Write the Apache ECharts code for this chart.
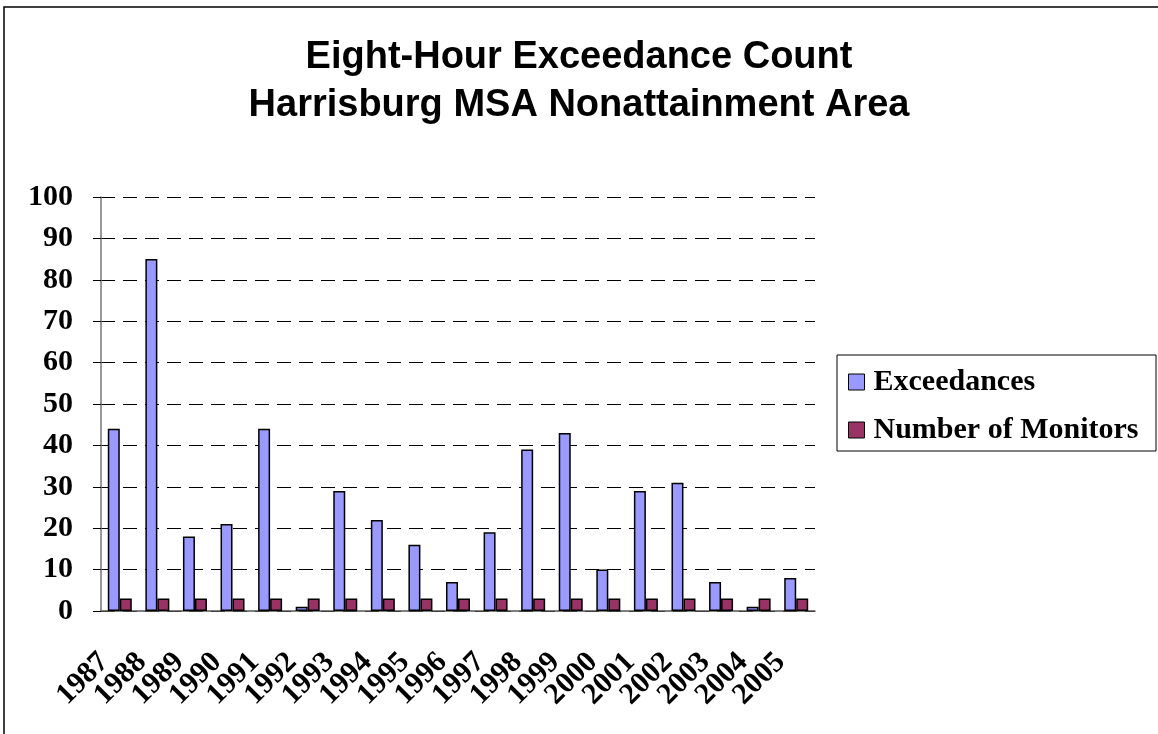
<!DOCTYPE html>
<html>
<head>
<meta charset="utf-8">
<script src="https://cdn.jsdelivr.net/npm/echarts@6/dist/echarts.min.js"></script>
<style>
  html, body { margin: 0; padding: 0; background: #fff; }
  #main { width: 1158px; height: 734px; }
</style>
</head>
<body>
<div id="main"></div>
<script>
var years = ['1987','1988','1989','1990','1991','1992','1993','1994','1995','1996',
             '1997','1998','1999','2000','2001','2002','2003','2004','2005'];
var exceedances = [44, 85, 18, 21, 44, 1, 29, 22, 16, 7, 19, 39, 43, 10, 29, 31, 7, 1, 8];
var monitors = [3, 3, 3, 3, 3, 3, 3, 3, 3, 3, 3, 3, 3, 3, 3, 3, 3, 3, 3];
var yTicks = [0, 10, 20, 30, 40, 50, 60, 70, 80, 90, 100];

var serif = '"Liberation Serif", "Times New Roman", serif';
var sans = '"Liberation Sans", Arial, sans-serif';

var myChart = echarts.init(document.getElementById('main'));
myChart.setOption({
  animation: false,
  backgroundColor: '#fff',
  title: {
    text: 'Eight-Hour Exceedance Count\nHarrisburg MSA Nonattainment Area',
    left: 'center',
    top: 29,
    textStyle: {
      fontFamily: sans,
      fontWeight: 'bold',
      fontSize: 38,
      lineHeight: 48,
      color: '#000'
    }
  },
  graphic: [
    {
      type: 'rect',
      shape: { x: 4, y: 7, width: 1160, height: 740 },
      style: { fill: 'none', stroke: '#000', lineWidth: 1.5 },
      silent: true
    },
    {
      type: 'rect',
      shape: { x: 837, y: 355, width: 319, height: 96 },
      style: { fill: '#fff', stroke: '#000', lineWidth: 1 },
      z: -1,
      silent: true
    }
  ],
  legend: {
    orient: 'vertical',
    left: 837,
    top: 367,
    padding: [0, 0, 0, 11],
    itemGap: 18,
    itemWidth: 16,
    itemHeight: 16,
    icon: 'rect',
    itemStyle: { borderColor: '#000', borderWidth: 1 },
    textStyle: {
      fontFamily: serif,
      fontWeight: 'bold',
      fontSize: 30,
      lineHeight: 30,
      color: '#000',
      padding: [0, 0, 0, 4]
    },
    data: ['Exceedances', 'Number of Monitors']
  },
  grid: {
    left: 101,
    right: 343,
    top: 197,
    bottom: 123
  },
  xAxis: {
    type: 'category',
    data: years,
    axisLine: { lineStyle: { color: '#555', width: 1.5 } },
    axisTick: { length: 8, lineStyle: { color: '#555', width: 1.5 } },
    axisLabel: {
      interval: 0,
      rotate: 45,
      margin: 31,
      padding: [0, 22, 0, 0],
      fontFamily: serif,
      fontWeight: 'bold',
      fontSize: 30,
      color: '#000'
    }
  },
  yAxis: {
    type: 'value',
    min: yTicks[0],
    max: yTicks[yTicks.length - 1],
    interval: 10,
    axisLine: { show: true, lineStyle: { color: '#777', width: 1.5 } },
    axisTick: { show: true, length: 8, lineStyle: { color: '#000', width: 1 } },
    axisLabel: {
      margin: 28,
      fontFamily: serif,
      fontWeight: 'bold',
      fontSize: 30,
      color: '#000'
    },
    splitLine: {
      lineStyle: { color: '#000', width: 1, type: [14, 8] }
    }
  },
  series: [
    {
      name: 'Exceedances',
      type: 'bar',
      data: exceedances,
      barWidth: 12,
      barGap: '0%',
      itemStyle: { color: '#9999FF', borderColor: '#000', borderWidth: 1.5 }
    },
    {
      name: 'Number of Monitors',
      type: 'bar',
      data: monitors,
      barWidth: 12,
      itemStyle: { color: '#993366', borderColor: '#000', borderWidth: 1.5 }
    }
  ]
});
</script>
</body>
</html>
